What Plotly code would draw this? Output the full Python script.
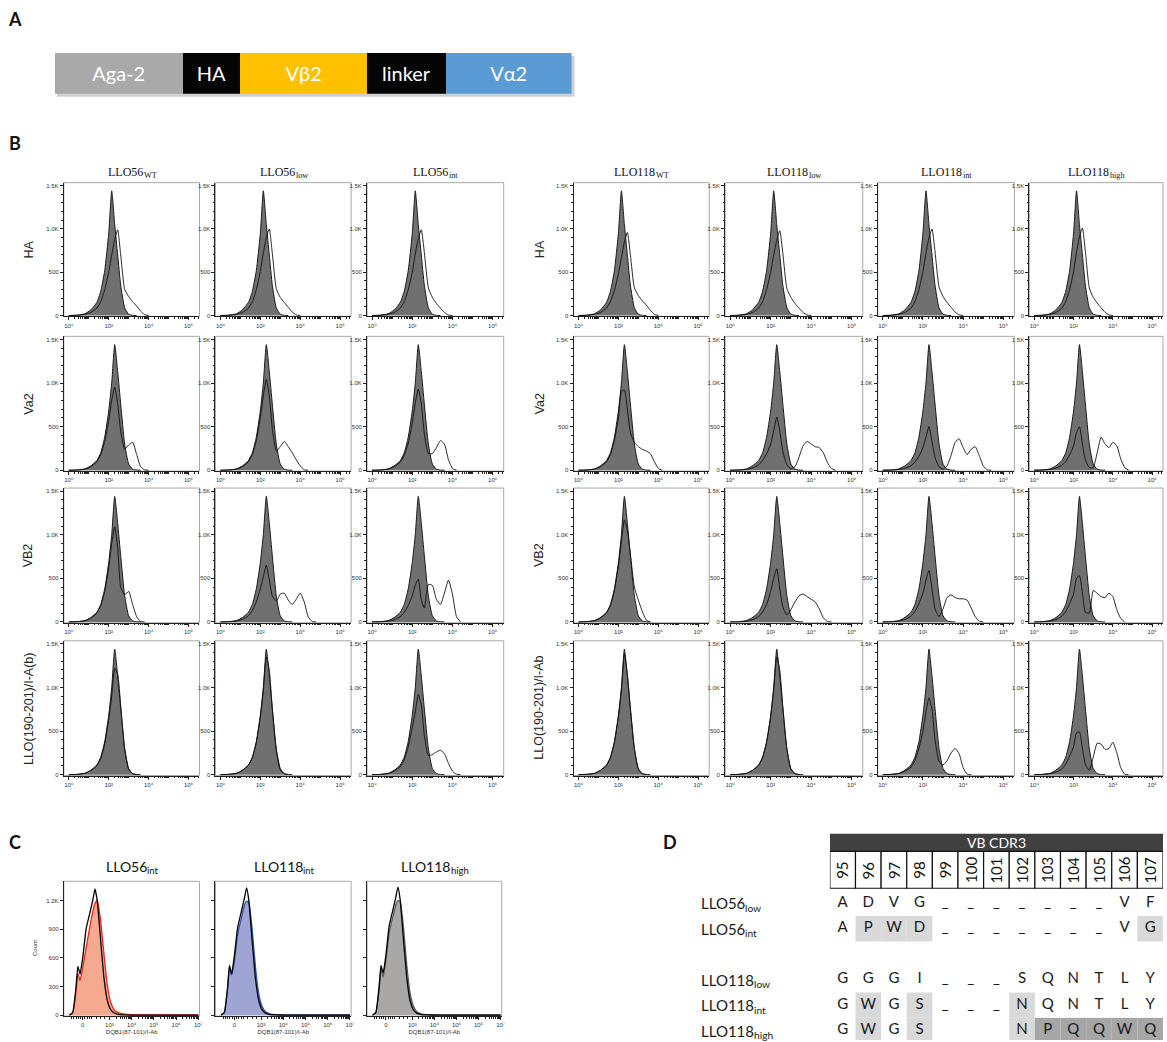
import numpy as np
import plotly.graph_objects as go

W, H = 1167, 1042

# ---------------- Panel A data ----------------
A_LABELS = ["Aga-2", "HA", "Vβ2", "linker", "Vα2"]
A_LENGTHS = [128, 58, 127, 79, 126]
A_COLORS = ["#a9a9a9", "#050505", "#ffc000", "#050505", "#5b9bd5"]

# ---------------- Panel B data (x = log10 fluorescence, y = count) ----------------
GRID_B = [0.0, 0.4, 0.8, 1.1, 1.4, 1.6, 1.8, 2.0, 2.15, 2.3, 2.45, 2.6, 2.8, 3.0,
          3.2, 3.4, 3.6, 3.8, 4.0, 4.2, 4.4, 4.6, 4.8, 5.0, 5.2, 5.4, 5.6]
CTRL_HA = [0, 4, 20, 65, 150, 280, 520, 950, 1440, 1050, 700, 350, 90, 15, 2, 0]
CTRL_B = [0, 3, 15, 50, 110, 200, 380, 680, 1000, 1440, 1130, 760, 300, 70, 12, 2, 0]

B_LEFT_COLS = [("LLO56", "WT"), ("LLO56", "low"), ("LLO56", "int")]
B_RIGHT_COLS = [("LLO118", "WT"), ("LLO118", "low"), ("LLO118", "int"), ("LLO118", "high")]
B_ROWS_LEFT = ["HA", "Va2", "VB2", "LLO(190-201)/I-A(b)"]
B_ROWS_RIGHT = ["HA", "Va2", "VB2", "LLO(190-201)/I-Ab"]
B_XTICKS = ["10⁰", "10²", "10⁴", "10⁶"]
B_YTICKS = ["0", "500", "1.0K", "1.5K"]

HA_56WT = [0, 2, 12, 35, 85, 160, 300, 500, 700, 880, 990, 700, 300, 220, 160, 110, 50, 10, 0]
HA_56LOW = [0, 2, 12, 35, 85, 160, 300, 510, 720, 900, 1000, 720, 310, 210, 150, 95, 40, 8, 0]
HA_56INT = [0, 2, 12, 35, 85, 160, 300, 500, 710, 890, 990, 730, 320, 210, 140, 85, 35, 6, 0]
HA_118WT = [0, 2, 12, 35, 85, 160, 290, 480, 670, 850, 960, 700, 320, 230, 170, 120, 60, 15, 0]
HA_118LOW = [0, 2, 12, 35, 85, 160, 300, 500, 700, 870, 980, 720, 310, 210, 140, 85, 35, 6, 0]
HA_118INT = [0, 2, 12, 35, 85, 160, 300, 510, 720, 900, 1000, 740, 330, 220, 150, 95, 40, 8, 0]
HA_118HIGH = [0, 2, 12, 35, 85, 160, 300, 510, 730, 910, 1010, 740, 320, 210, 145, 90, 38, 7, 0]

VA_56WT = [0, 2, 12, 40, 95, 180, 330, 560, 800, 950, 760, 450, 240, 290, 320, 180, 40, 5, 0]
VA_56LOW = [0, 2, 12, 40, 95, 180, 340, 600, 850, 1040, 850, 480, 220, 270, 330, 270, 200, 120, 50, 5, 0]
VA_56INT = [0, 2, 12, 40, 90, 170, 310, 540, 770, 930, 760, 420, 190, 190, 260, 340, 300, 120, 20, 0]
VA_118WT = [0, 2, 12, 40, 95, 180, 340, 600, 900, 920, 700, 430, 320, 270, 240, 220, 190, 100, 20, 0]
VA_118LOW = [0, 2, 8, 25, 60, 110, 190, 300, 450, 610, 450, 220, 60, 15, 40, 150, 280, 330, 300, 270, 260, 200, 90, 20, 0]
VA_118INT = [0, 2, 8, 22, 50, 95, 160, 260, 380, 500, 330, 150, 40, 10, 50, 170, 320, 360, 260, 180, 240, 270, 170, 50, 5, 0]
VA_118HIGH = [0, 2, 8, 24, 55, 100, 175, 280, 430, 500, 300, 120, 30, 30, 200, 380, 300, 260, 320, 280, 130, 30, 0]

VB_56WT = [0, 2, 12, 42, 100, 190, 350, 620, 900, 1090, 850, 400, 310, 350, 200, 60, 5, 0]
VB_56LOW = [0, 2, 10, 30, 70, 130, 230, 380, 520, 650, 480, 300, 240, 320, 330, 250, 200, 260, 330, 230, 60, 5, 0]
VB_56INT = [0, 2, 8, 25, 60, 110, 190, 300, 420, 490, 250, 160, 430, 420, 260, 200, 330, 480, 320, 60, 0]
VB_118WT = [0, 3, 14, 45, 100, 190, 360, 640, 920, 1170, 1050, 780, 400, 250, 120, 20, 0]
VB_118LOW = [0, 2, 8, 25, 60, 115, 200, 350, 500, 610, 380, 170, 80, 140, 230, 300, 320, 290, 260, 230, 150, 50, 5, 0]
VB_118INT = [0, 2, 9, 28, 65, 120, 210, 330, 480, 590, 380, 150, 60, 150, 280, 310, 280, 265, 265, 250, 160, 60, 10, 0]
VB_118HIGH = [0, 2, 9, 28, 65, 120, 210, 320, 500, 530, 330, 110, 100, 360, 330, 290, 280, 330, 290, 140, 40, 0]

LL_56WT = [0, 3, 14, 45, 100, 185, 350, 630, 900, 1220, 1150, 800, 290, 60, 10, 0]
LL_56LOW = [0, 3, 14, 48, 105, 195, 370, 660, 960, 1350, 1200, 760, 270, 55, 8, 0]
LL_56INT = [0, 2, 12, 40, 90, 170, 320, 540, 720, 920, 800, 450, 220, 230, 260, 280, 240, 130, 40, 5, 0]
LL_118WT = [0, 3, 14, 48, 105, 195, 370, 660, 960, 1380, 1150, 760, 300, 60, 10, 0]
LL_118LOW = [0, 3, 14, 48, 105, 195, 370, 660, 980, 1350, 1200, 780, 290, 60, 10, 0]
LL_118INT = [0, 2, 12, 38, 85, 160, 300, 500, 720, 880, 750, 400, 150, 110, 160, 250, 300, 240, 80, 5, 0]
LL_118HIGH = [0, 2, 9, 28, 65, 120, 210, 320, 480, 490, 300, 120, 50, 200, 360, 350, 290, 300, 370, 250, 80, 5, 0]

# ---------------- Panel C data (biexponential display units) ----------------
GRID_C = [-0.6, -0.45, -0.3, -0.22, -0.12, 0.0, 0.15, 0.3, 0.45, 0.55, 0.65, 0.8, 0.95,
          1.1, 1.25, 1.4, 1.6, 1.9, 2.3, 3.0, 4.0, 5.2]
C_TITLES = [("LLO56", "int"), ("LLO118", "int"), ("LLO118", "high")]
C_XTICKS = ["0", "10³", "10⁴", "10⁵", "10⁶", "10⁷"]
C_YTICKS = ["0", "300", "600", "900", "1.2K"]
C_REF_56 = [0, 30, 300, 510, 430, 600, 900, 1050, 1200, 1320, 1200, 800, 400, 160, 60, 25, 8, 2, 0, 0, 0, 0]
C_SAMPLE_56 = [0, 20, 250, 440, 360, 500, 700, 900, 1080, 1170, 1200, 1000, 650, 320, 140, 60, 25, 10, 4, 2, 1, 1]
C_REF_118INT = [0, 30, 300, 520, 430, 620, 920, 1070, 1220, 1330, 1200, 780, 380, 150, 55, 20, 6, 2, 0, 0, 0, 0]
C_SAMPLE_118INT = [0, 25, 280, 500, 420, 560, 850, 1000, 1150, 1190, 1180, 900, 500, 220, 90, 35, 12, 4, 2, 1, 1, 1]
C_REF_118HIGH = [0, 30, 310, 520, 440, 620, 930, 1080, 1230, 1340, 1210, 790, 390, 150, 55, 20, 6, 2, 0, 0, 0, 0]
C_SAMPLE_118HIGH = [0, 25, 270, 480, 400, 560, 860, 1010, 1150, 1200, 1190, 920, 520, 230, 95, 35, 12, 4, 2, 1, 1, 1]
C_FILLS = ["#f5a98f", "#9ea5d5", "#aaa7a7"]
C_LINES = ["#e3261d", "#2f4fa6", "#5a5a5a"]

# ---------------- Panel D data ----------------
D_POSITIONS = ["95", "96", "97", "98", "99", "100", "101", "102", "103", "104", "105", "106", "107"]
D_ROW_LABELS = [("LLO56", "low"), ("LLO56", "int"), ("LLO118", "low"), ("LLO118", "int"), ("LLO118", "high")]
D_ROW_SLOTS = [0, 1, 3, 4, 5]
SEQ_56LOW = ["A", "D", "V", "G", "_", "_", "_", "_", "_", "_", "_", "V", "F"]
SEQ_56INT = ["A", "P", "W", "D", "_", "_", "_", "_", "_", "_", "_", "V", "G"]
SEQ_118LOW = ["G", "G", "G", "I", "_", "_", "_", "S", "Q", "N", "T", "L", "Y"]
SEQ_118INT = ["G", "W", "G", "S", "_", "_", "_", "N", "Q", "N", "T", "L", "Y"]
SEQ_118HIGH = ["G", "W", "G", "S", " ", " ", " ", "N", "P", "Q", "Q", "W", "Q"]
D_LIGHT = [(1, [1, 2, 3, 12]), (4, [1, 3, 7]), (5, [1, 3, 7])]
D_DARK = [(5, [8, 9, 10, 11, 12])]

# ---------------- figure helpers ----------------
fig = go.Figure()
axes = {}
shapes = []
annotations = []
counter = [0]

# approximate glyph advance widths (em) used to place subscripts right after their base text
SERIF_EM = {"L": 0.611, "O": 0.722, "W": 0.944, "T": 0.611, "l": 0.278, "o": 0.5, "w": 0.722,
            "i": 0.278, "n": 0.5, "t": 0.278, "h": 0.5, "g": 0.5}
LATO_EM = {"L": 0.49, "O": 0.76, "W": 0.95, "T": 0.56, "l": 0.25, "o": 0.56, "w": 0.79,
           "i": 0.24, "n": 0.56, "t": 0.36, "h": 0.56, "g": 0.51}


def text_w(s, size, table, digit):
    return sum(table.get(c, digit) for c in s) * size


def new_axes(xpx, ypx, xcfg, ycfg):
    counter[0] += 1
    k = counter[0]
    s = "" if k == 1 else str(k)
    axes["xaxis" + s] = dict(domain=[xpx[0] / W, xpx[1] / W], anchor="y" + s, **xcfg)
    axes["yaxis" + s] = dict(domain=[1 - ypx[1] / H, 1 - ypx[0] / H], anchor="x" + s, **ycfg)
    return "x" + s, "y" + s


def ann(text, x, y, size, family="Liberation Sans", color="#000", xanchor="center",
        yanchor="middle", angle=0, xref="paper", yref="paper", yshift=0, pad=1):
    annotations.append(dict(text=text, x=x, y=y, xref=xref, yref=yref, showarrow=False,
                            xanchor=xanchor, yanchor=yanchor, textangle=angle, yshift=yshift,
                            borderpad=pad, borderwidth=0,
                            font=dict(size=size, family=family, color=color)))


def sub_label(base, sub, xpx, y, size, family, table, digit, align="center", yref="paper",
              color="#111", gap=0.8):
    sub_size = round(size * 0.68, 1)
    wb = text_w(base, size, table, digit)
    ws = text_w(sub, sub_size, table, digit)
    left = xpx - (wb + ws) / 2 if align == "center" else xpx
    ann(base, left / W, y, size, family=family, color=color, xanchor="left", yref=yref, pad=0)
    ann(sub, (left + wb + gap) / W, y, sub_size, family=family, color=color, xanchor="left", yref=yref,
        yshift=-0.3 * size, pad=0)


def frame(xpx, ypx):
    shapes.append(dict(type="rect", xref="paper", yref="paper", x0=xpx[0] / W, x1=xpx[1] / W,
                       y0=1 - ypx[1] / H, y1=1 - ypx[0] / H,
                       line=dict(color="#a8a8a8", width=1), layer="below"))


HIDDEN = dict(visible=False, fixedrange=True)
TICKFONT = dict(family="Liberation Sans, DejaVu Sans", size=6, color="#333")

# ---------------- Panel A ----------------
xa, ya = new_axes((55, 573), (53, 94), dict(range=[0, sum(A_LENGTHS)], **HIDDEN),
                  dict(range=[-0.5, 0.5], **HIDDEN))
shapes.append(dict(type="rect", xref="paper", yref="paper", x0=57 / W, x1=576 / W,
                   y0=1 - 97 / H, y1=1 - 56 / H, fillcolor="#cfcfcf", line=dict(width=0),
                   layer="below"))
for lab, ln, col in zip(A_LABELS, A_LENGTHS, A_COLORS):
    fig.add_trace(go.Bar(x=[ln], y=[0], orientation="h", width=1, marker=dict(color=col, line=dict(width=0)),
                         text=[lab], textposition="inside", insidetextanchor="middle",
                         textfont=dict(family="Lato", size=20, color="white"),
                         xaxis=xa, yaxis=ya, hoverinfo="skip", showlegend=False))

# ---------------- Panel B ----------------
b_minor_x = [float(np.log10(m * 10.0 ** d)) for d in range(0, 7) for m in range(1, 10)]
b_minor_x = [v for v in b_minor_x if v <= 6.55]


def bx_cfg():
    return dict(range=[-0.25, 6.55], showgrid=False, zeroline=False, showline=True,
                linecolor="#222", linewidth=1, ticks="outside", ticklen=3, tickwidth=0.8,
                tickcolor="#222", tickmode="array", tickvals=[0, 2, 4, 6], ticktext=B_XTICKS,
                tickfont=TICKFONT,
                minor=dict(tickmode="array", tickvals=b_minor_x, ticks="outside", ticklen=1.6,
                           tickcolor="#222", tickwidth=0.6),
                fixedrange=True)


def by_cfg():
    return dict(range=[-10, 1535], showgrid=False, zeroline=False, showline=True,
                linecolor="#222", linewidth=1, ticks="outside", ticklen=3, tickwidth=0.8,
                tickcolor="#222", tickmode="array", tickvals=[0, 500, 1000, 1500], ticktext=B_YTICKS,
                tickfont=TICKFONT,
                minor=dict(tickmode="array", tickvals=list(range(100, 1600, 100)), ticks="outside",
                           ticklen=1.6, tickcolor="#222", tickwidth=0.6),
                fixedrange=True)


LEFT_X = [(64, 200), (216, 352), (368, 505)]
RIGHT_X = [(575, 711), (727, 865), (880, 1017), (1032, 1166)]
ROW_Y = [(183, 317), (337, 472), (489, 624), (642, 777)]
ROW_CTRL = [CTRL_HA, CTRL_B, CTRL_B, CTRL_B]

B_LEFT_DATA = [[HA_56WT, VA_56WT, VB_56WT, LL_56WT],
               [HA_56LOW, VA_56LOW, VB_56LOW, LL_56LOW],
               [HA_56INT, VA_56INT, VB_56INT, LL_56INT]]
B_RIGHT_DATA = [[HA_118WT, VA_118WT, VB_118WT, LL_118WT],
                [HA_118LOW, VA_118LOW, VB_118LOW, LL_118LOW],
                [HA_118INT, VA_118INT, VB_118INT, LL_118INT],
                [HA_118HIGH, VA_118HIGH, VB_118HIGH, LL_118HIGH]]


def draw_b_group(cols_x, titles, data, row_labels, label_x):
    for ci, (xpx, (base, sub), cdata) in enumerate(zip(cols_x, titles, data)):
        sub_label(base, sub, (xpx[0] + xpx[1]) / 2, 1 - 172 / H, 12, "Liberation Serif", SERIF_EM, 0.5)
        for ri, (ypx, yvals, ctrl) in enumerate(zip(ROW_Y, cdata, ROW_CTRL)):
            xr, yr = new_axes(xpx, ypx, bx_cfg(), by_cfg())
            frame(xpx, ypx)
            fig.add_trace(go.Scatter(x=GRID_B[:len(ctrl)], y=ctrl, mode="lines",
                                     line=dict(color="#1a1a1a", width=1, shape="spline", smoothing=0.5),
                                     fill="tozeroy", fillcolor="#707070", xaxis=xr, yaxis=yr,
                                     hoverinfo="skip", showlegend=False))
            fig.add_trace(go.Scatter(x=GRID_B[:len(yvals)], y=yvals, mode="lines",
                                     line=dict(color="#111", width=0.9, shape="spline", smoothing=0.5),
                                     xaxis=xr, yaxis=yr, hoverinfo="skip", showlegend=False))
    for ri, ypx in enumerate(ROW_Y):
        ann(row_labels[ri], label_x / W, 1 - (ypx[0] + ypx[1]) / 2 / H, 12.5, angle=-90, color="#222")


draw_b_group(LEFT_X, B_LEFT_COLS, B_LEFT_DATA, B_ROWS_LEFT, 29)
draw_b_group(RIGHT_X, B_RIGHT_COLS, B_RIGHT_DATA, B_ROWS_RIGHT, 541)

# ---------------- Panel C ----------------
c_minor_x = [-0.5, -0.4, -0.3, -0.2, -0.1, 0.1, 0.2, 0.3, 0.4, 0.6, 0.8, 1.0]
c_minor_x += [float(1.2 + (d - 3) + np.log10(m)) for d in range(3, 7) for m in range(2, 10)]
C_X = [(64, 200), (216, 352), (368, 503)]
C_Y = (883, 1018)
C_DATA = [(C_REF_56, C_SAMPLE_56), (C_REF_118INT, C_SAMPLE_118INT), (C_REF_118HIGH, C_SAMPLE_118HIGH)]

for i, (xpx, (base, sub), (ref, samp)) in enumerate(zip(C_X, C_TITLES, C_DATA)):
    xcfg = dict(range=[-0.85, 5.25], showgrid=False, zeroline=False, showline=True,
                linecolor="#222", linewidth=1, ticks="outside", ticklen=3, tickwidth=0.8,
                tickcolor="#222", tickmode="array", tickvals=[0, 1.2, 2.2, 3.2, 4.2, 5.2],
                ticktext=C_XTICKS, tickfont=TICKFONT,
                minor=dict(tickmode="array", tickvals=c_minor_x, ticks="outside", ticklen=1.8,
                           tickcolor="#222", tickwidth=0.7),
                title=dict(text="DQB1(87-101)/I-Ab", font=dict(size=6, family="Liberation Sans", color="#333"),
                           standoff=2),
                fixedrange=True)
    ycfg = dict(range=[-10, 1400], showgrid=False, zeroline=False, showline=True,
                linecolor="#222", linewidth=1, ticks="outside", ticklen=3, tickwidth=0.8,
                tickcolor="#222", tickmode="array", tickvals=[0, 300, 600, 900, 1200],
                ticktext=C_YTICKS, showticklabels=(i == 0), tickfont=TICKFONT, fixedrange=True)
    xr, yr = new_axes(xpx, C_Y, xcfg, ycfg)
    frame(xpx, C_Y)
    fig.add_trace(go.Scatter(x=GRID_C, y=samp, mode="lines",
                             line=dict(color=C_LINES[i], width=1.3, shape="spline", smoothing=0.4),
                             fill="tozeroy", fillcolor=C_FILLS[i], xaxis=xr, yaxis=yr,
                             hoverinfo="skip", showlegend=False))
    fig.add_trace(go.Scatter(x=GRID_C, y=ref, mode="lines",
                             line=dict(color="#000", width=1.3, shape="spline", smoothing=0.4),
                             xaxis=xr, yaxis=yr, hoverinfo="skip", showlegend=False))
    sub_label(base, sub, (xpx[0] + xpx[1]) / 2, 1 - 868 / H, 14, "Lato", LATO_EM, 0.57, gap=1.2)
ann("Count", 35 / W, 1 - 950 / H, 6, angle=-90, color="#333")

# ---------------- Panel D ----------------
xdr, ydr = new_axes((832, 1166), (835, 1042), dict(range=[-0.5, 12.5], **HIDDEN),
                    dict(range=[5.37, -2.745], **HIDDEN))
for slot, cols in D_LIGHT:
    for c in cols:
        shapes.append(dict(type="rect", xref=xdr, yref=ydr, x0=c - 0.5, x1=c + 0.5,
                           y0=slot - 0.5, y1=slot + 0.5, fillcolor="#d9d9d9",
                           line=dict(width=0), layer="below"))
for slot, cols in D_DARK:
    for c in cols:
        shapes.append(dict(type="rect", xref=xdr, yref=ydr, x0=c - 0.5, x1=c + 0.5,
                           y0=slot - 0.5, y1=slot + 0.5, fillcolor="#a6a6a6",
                           line=dict(width=0), layer="below"))
shapes.append(dict(type="rect", xref=xdr, yref=ydr, x0=-0.5, x1=12.5, y0=-2.745, y1=-2.04,
                   fillcolor="#404040", line=dict(width=0)))
ann("VB CDR3", 6, -2.39, 14, family="Lato", color="white", xref=xdr, yref=ydr)
for i, p in enumerate(D_POSITIONS):
    shapes.append(dict(type="rect", xref=xdr, yref=ydr, x0=i - 0.5, x1=i + 0.5, y0=-2.04, y1=-0.59,
                       fillcolor="white", line=dict(color="#111", width=1.2)))
    ann(p, i, -1.3, 15, family="Lato", color="#111", angle=-90, xref=xdr, yref=ydr)

for (base, sub), slot, seq in zip(D_ROW_LABELS, D_ROW_SLOTS,
                                  [SEQ_56LOW, SEQ_56INT, SEQ_118LOW, SEQ_118INT, SEQ_118HIGH]):
    fig.add_trace(go.Scatter(x=list(range(len(seq))), y=[slot] * len(seq), mode="text", text=seq,
                             textfont=dict(family="Lato", size=15, color="#1a1a1a"),
                             xaxis=xdr, yaxis=ydr, hoverinfo="skip", showlegend=False))
    sub_label(base, sub, 703, slot, 15, "Lato", LATO_EM, 0.57, align="left", yref=ydr,
              color="#1a1a1a", gap=1.2)

# ---------------- panel letters ----------------
for letter, x, y in [("A", 15, 19), ("B", 15, 143), ("C", 15, 844), ("D", 672, 844)]:
    ann("<b>" + letter + "</b>", x / W, 1 - y / H, 18, family="Lato", color="#111")

fig.update_layout(width=W, height=H, margin=dict(l=0, r=0, t=0, b=0),
                  paper_bgcolor="white", plot_bgcolor="white", showlegend=False,
                  barmode="stack", shapes=shapes, annotations=annotations, **axes)
fig.write_html("out.html")
